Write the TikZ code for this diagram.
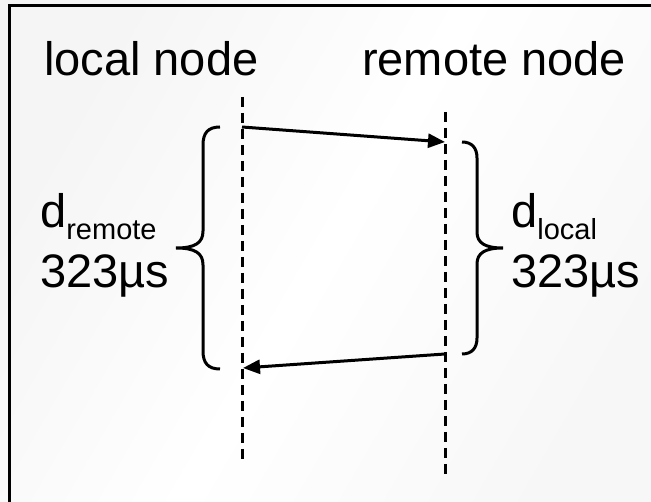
\documentclass[tikz,border=0pt]{standalone}
\usepackage{fontspec}
\setmainfont{Liberation Sans}
\usetikzlibrary{arrows.meta}
\tikzset{
  lbl/.style={anchor=base west, inner sep=0pt, font=\fontsize{47}{47}\selectfont},
  life/.style={line width=3pt, dash pattern=on 10pt off 6pt},
  msg/.style={line width=3pt, -{Triangle[length=17pt,width=14pt]}},
  brc/.style={line width=3pt},
  frame/.style={line width=3pt}
}
\newcommand{\subtxt}[1]{\raisebox{-12pt}{\fontsize{29}{29}\selectfont #1}}
\begin{document}
\begin{tikzpicture}[x=1pt,y=-1pt]
\useasboundingbox (0,0) rectangle (651,502);
\shade[left color=black!4, right color=black!3, middle color=white, shading angle=60] (0,0) rectangle (651,502);
\draw[frame] (9.5,503) -- (9.5,6) -- (652,6);
% headers
\node[lbl] (ln) at (44,76) {local node};
\node[lbl] (rn) at (362,76) {remote node};
% lifelines
\coordinate (lt) at (242,97);
\coordinate (lb) at (242,460);
\coordinate (rt) at (445,112);
\coordinate (rb) at (445,475);
\draw[life] (lt) -- (lb);
\draw[life] (rt) -- (rb);
% messages
\coordinate (m1s) at (242,127);
\coordinate (m1e) at (445,142);
\coordinate (m2s) at (445,354);
\coordinate (m2e) at (243,368);
\draw[msg] (m1s) -- (m1e);
\draw[msg] (m2s) -- (m2e);
% braces
\draw[brc] (220,127) .. controls (208,127) and (203,133) .. (203,145) -- (203,231)
  .. controls (203,243) and (195,248) .. (176,248)
  .. controls (195,248) and (203,253) .. (203,265) -- (203,351)
  .. controls (203,363) and (208,369) .. (220,369);
\draw[brc] (462,142) .. controls (472,142) and (477,148) .. (477,158) -- (477,232)
  .. controls (477,243) and (485,248) .. (503,248)
  .. controls (485,248) and (477,253) .. (477,264) -- (477,338)
  .. controls (477,348) and (472,354) .. (462,354);
% labels
\node[lbl] (dr) at (40,228) {d\subtxt{remote}};
\node[lbl] (tr) at (40,288) {323µs};
\node[lbl] (dl) at (511,228) {d\subtxt{local}};
\node[lbl] (tl) at (511,288) {323µs};
\end{tikzpicture}
\end{document}
